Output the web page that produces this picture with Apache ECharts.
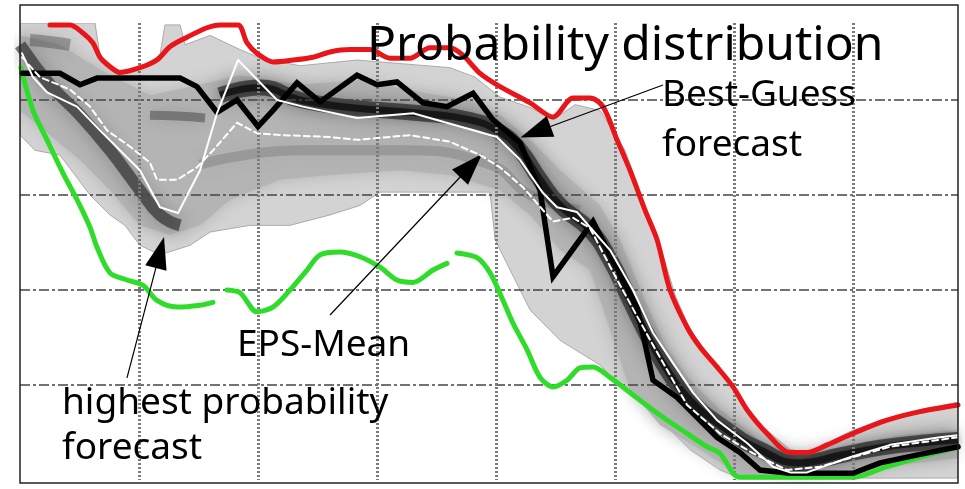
<!DOCTYPE html>
<html>
<head>
<meta charset="utf-8">
<script src="https://cdn.jsdelivr.net/npm/echarts@6/dist/echarts.min.js"></script>
<style>html,body{margin:0;padding:0;background:#fff}#chart{width:965px;height:489px}</style>
</head>
<body>
<div id="chart"></div>
<script>
// x: forecast time (grid line every 10 units), y: forecast value (grid line every 10 units)

// Envelope of the probability distribution (light grey)
const envUpperX = [0,6.3,6.72,8.4,10.08,11.76,12.18,13.45,13.87,15.97,18.49,20.17,23.53,28.32,36.13,38.24,40.34,42.86,44.79,46.64,48.74,50.84,52.1,53.78,55.04,56.3,57.56,59.24,60.92,62.18,64.71,66.39,69.75,72.27,75.63,78.82];
const envUpperY = [48.1,48.1,44.7,42.9,43.4,44.7,47.9,47.9,45.8,46.8,45.3,44.4,43.6,44.2,43.4,42.4,40.3,39.2,37.9,39.5,38.9,34.7,30,24.7,19.5,15.8,13.7,11.1,7.9,5.8,3.2,2.9,5.1,6.3,7.4,8.2];
const envLowerX = [0,1.26,3.36,5.88,7.56,8.82,10.08,11.76,14.29,15.97,19.33,22.69,26.05,28.57,30.25,39.5,39.92,41.18,42.86,45.38,48.74,50.42,52.94,56.3,58.82,60.5,78.82];
const envLowerY = [36.3,34.7,34.2,30,27.9,26.8,24.7,23.7,24.7,26.1,26.8,26.8,27.9,28.9,30.3,30.3,25.3,22.1,17.9,14.7,12.1,10,7.4,3.2,1.05,0.2,0.2];

// Core of the distribution (medium grey)
const coreUpperX = [0,3.36,6.72,10.92,15.13,18.49,23.53,28.57,33.61,37.82,40.34,42.86,45.38,48.74,50.42,52.52,54.2,56.3,58.82,62.18,65.55,69.75,73.95,78.82];
const coreUpperY = [46.8,45.8,43.2,40.5,41.6,42.6,41.6,42.1,40.8,40,38.4,35.8,32.6,28.9,25.3,18.9,14.2,10.5,7.4,4.2,2.3,3.7,4.7,5.3];
const coreLowerX = [0,2.52,5.04,7.56,10.08,12.61,15.13,17.65,21.85,26.05,31.93,36.13,40.34,42.86,45.38,47.9,49.58,51.26,53.78,57.14,60.5,65.55,69.75,73.95,78.82];
const coreLowerY = [38.9,36.3,33.7,30.5,26.8,25.8,26.8,29.5,31.6,32.1,32.6,32.1,30.5,27.9,24.2,22.1,15.8,9.5,5.8,3.2,0.5,0.2,0.8,1.6,2.3];

// High-density streaks (dark)
const mainStreakX = [16.81,20.17,23.53,27.73,33.61,37.82,40.34,42.02,43.7,45.38,47.9,49.58,51.26,52.94,54.62,56.3,58.82,62.18,65.55,68.91,72.27,75.63,78.82];
const mainStreakY = [40.5,41.3,40,39.2,38.6,37.9,36.6,34.7,31.6,28.9,26.3,23.2,18.9,14.7,11.1,8.4,5.8,3.2,1.8,2.6,3.4,3.9,4.2];
const leftStreakX = [0,2.52,5.04,7.56,10.08,11.76,13.45];
const leftStreakY = [45.8,41.6,38.4,34.7,30.5,27.9,26.8];
const topBlobX = [0.84,2.5,4.2];
const topBlobY = [46.3,46.1,45.8];
const midBlobX = [10.92,13.2,15.55];
const midBlobY = [38.4,38.3,38.1];
const lowStreakX = [15.13,23.53,31.93,39.5,42.86,47.06];
const lowStreakY = [33.2,34.7,34.7,33.2,30,28.4];

// Maximum of the ensemble (red)
const maxX = [2.52,4.2,5.29,6.13,6.72,7.56,8.4,10.08,11.51,12.6,14.03,15.71,16.81,18.32,19.08,19.92,21.26,22.94,24.62,26.05,27.73,29.41,31.09,32.77,34.45,36.13,37.23,38.66,40.34,42.86,44.79,46.47,47.9,48.99,50.17,51.26,52.52,53.53,54.62,56.05,57.14,58.57,59.92,61.09,62.77,64.71,66.13,67.82,70.0,72.86,75.63,78.82];
const maxY = [47.9,47.9,47.05,46.0,44.5,43.5,42.9,43.4,44.2,45.6,46.6,47.6,47.9,47.9,46.0,44.9,44.0,44.2,44.5,45.05,45.3,45.3,44.4,44.4,45.5,45.5,44.7,42.8,41.4,39.7,38.2,40.2,40.2,39.3,35.8,32.6,28.4,25.3,20.0,16.1,14.0,11.9,9.8,7.4,4.9,2.9,2.9,3.7,4.9,6.3,7.2,7.9];

// Minimum of the ensemble (green); null = gap
const minX = [0.08,1.09,2.27,3.61,4.79,5.88,6.47,7.56,8.99,10.34,11.51,13.19,15.13,16.22,16.8,17.39,18.49,19.92,21.26,22.69,24.12,25.21,26.89,28.57,30.25,31.68,33.03,34.71,35.88,36.3,36.72,38.4,39.5,40.59,41.43,42.61,43.7,44.79,45.97,47.06,48.15,49.58,51.26,52.1,54.03,56.05,57.73,58.82,59.92,60.5,70.0,72.86,75.63,78.82];
const minY = [43.4,38.9,35.8,32.3,29.5,26.6,24.5,21.8,21.05,20.5,18.9,18.2,18.4,18.7,null,20.0,19.7,17.7,18.2,20.0,22.1,23.7,24.0,23.5,22.4,21.05,20.8,22.1,22.8,null,23.9,23.4,21.8,18.9,16.5,13.7,10.8,9.8,10.5,11.8,11.9,10.8,9.2,8.4,6.6,4.9,3.5,2.8,0.7,0.3,0.3,1.4,2.4,3.5];

// Best-Guess forecast (black)
const bestX = [0.17,3.36,5.04,6.47,13.45,14.87,16.55,18.24,20.0,21.26,23.28,25.21,28.32,30.0,31.68,33.87,35.88,38.07,39.75,42.02,43.7,44.79,48.15,51.85,53.19,55.21,56.89,58.57,60.5,62.18,64.71,70.0,72.27,75.63,78.82];
const bestY = [42.8,42.8,41.6,42.3,42.3,41.4,38.7,40.0,37.2,38.9,41.8,39.8,42.6,41.6,41.9,39.7,39.3,40.7,37.9,35.5,30.5,21.4,27.2,18.2,10.5,8.7,6.6,4.5,2.9,1.05,0.7,0.7,1.8,2.7,3.5];

// Highest probability forecast (white solid)
const modeX = [0.17,1.09,2.27,4.79,6.72,10.08,11.76,13.28,15.13,16.55,18.32,21.6,23.78,28.32,33.03,40.08,42.02,43.95,45.13,46.81,47.9,49.58,51.51,53.19,54.87,56.55,58.57,61.09,63.28,64.71,66.13,69.75,73.11,77.31,78.82];
const modeY = [44.9,42.4,40.8,39.3,36.8,32.6,28.7,28.1,32.6,38.6,44.2,40.0,39.3,38.1,38.6,36.1,33.7,30.2,28.7,28.2,26.6,24.2,20.0,15.5,12.3,9.2,6.3,3.9,1.4,0.8,0.8,2.4,3.7,4.5,4.7];

// EPS-Mean (white dashed)
const meanX = [0.17,1.68,4.2,5.88,7.31,9.24,10.92,11.51,13.19,14.87,16.22,18.24,19.92,22.1,26.05,28.32,32.77,36.13,38.66,40.34,42.27,44.79,46.47,47.9,50.42,53.19,56.05,58.82,61.6,64.45,67.23,70.0,73.11,78.82];
const meanY = [44.5,42.4,41.1,39.3,36.8,35.1,33.4,31.6,31.6,32.9,34.7,37.6,36.5,36.3,36.1,35.8,36.3,35.6,34.2,32.9,30.8,27.2,27.6,26.5,20.5,14.2,7.9,4.9,2.8,1.05,1.4,2.4,3.5,4.5];

// Annotation arrows: [start, head centre] in data units
const arrowBestGuess = [[54.03,41.58],[43.32,36.63]];
const arrowMean = [[26.05,17.37],[37.9,33.1]];
const arrowMode = [[8.99,10.74],[11.76,23.95]];

const pairs = (xs, ys) => xs.map((x, i) => [x, ys[i]]);

function polygonSeries(ux, uy, lx, ly, fill, stroke, blur) {
  return {
    type: 'custom', z: 1, silent: true, animation: false, clip: true,
    data: [[0, 0]],
    renderItem: function (params, api) {
      const pts = [];
      for (let i = 0; i < ux.length; i++) pts.push(api.coord([ux[i], uy[i]]));
      for (let i = lx.length - 1; i >= 0; i--) pts.push(api.coord([lx[i], ly[i]]));
      return {
        type: 'polygon',
        shape: { points: pts },
        style: { fill: fill, stroke: stroke, lineWidth: 1, shadowBlur: blur, shadowColor: fill }
      };
    }
  };
}

function streak(xs, ys, color, width, blur) {
  return {
    type: 'line', z: 1, silent: true, animation: false, symbol: 'none', smooth: 0.5,
    data: pairs(xs, ys),
    lineStyle: { color: color, width: width, cap: 'butt', shadowBlur: blur, shadowColor: color }
  };
}

function curve(xs, ys, color, width, z, extra) {
  return {
    type: 'line', z: z, silent: true, animation: false, symbol: 'none', showSymbol: false,
    connectNulls: false,
    data: pairs(xs, ys),
    lineStyle: Object.assign({ color: color, width: width, join: 'round', cap: 'round' }, extra || {})
  };
}

const chart = echarts.init(document.getElementById('chart'), null, { renderer: 'canvas' });

const redSeries = curve(maxX, maxY, '#e8161b', 5, 3);
redSeries.smooth = 0.3;
const greenSeries = curve(minX, minY, '#2fdc2a', 5, 3);
greenSeries.smooth = 0.3;
const blackSeries = curve(bestX, bestY, '#000', 5.5, 4, { join: 'miter' });
const meanSeries = curve(meanX, meanY, '#ffffff', 2, 5, { type: [6, 4] });
const modeSeries = curve(modeX, modeY, '#ffffff', 2, 5);
modeSeries.markLine = {
  silent: true, animation: false,
  symbol: ['none', 'triangle'], symbolSize: [22, 32],
  label: { show: false },
  lineStyle: { color: '#000', width: 1.2, type: 'solid' },
  emphasis: { disabled: true },
  data: [arrowBestGuess, arrowMean, arrowMode].map(a => [{ coord: a[0] }, { coord: a[1] }])
};

const labelFont = '37px "Noto Sans", "Open Sans", sans-serif';

chart.setOption({
  backgroundColor: '#ffffff',
  animation: false,
  grid: { left: 20, right: 7, top: 23, height: 457, show: false },
  xAxis: {
    type: 'value', min: 0, max: 78.82, interval: 10, z: 2,
    axisLine: { show: false }, axisTick: { show: false }, axisLabel: { show: false },
    splitLine: { show: true, showMinLine: false, showMaxLine: false,
      lineStyle: { color: '#7a7a7a', width: 3, type: [2, 2] } }
  },
  yAxis: {
    type: 'value', min: 0, max: 48.1, interval: 10, z: 2,
    axisLine: { show: false }, axisTick: { show: false }, axisLabel: { show: false },
    splitLine: { show: true, showMinLine: false, showMaxLine: false,
      lineStyle: { color: '#444', width: 1.5, type: [10, 3, 3, 3] } }
  },
  series: [
    polygonSeries(envUpperX, envUpperY, envLowerX, envLowerY, '#d3d3d3', '#ababab', 0),
    polygonSeries(coreUpperX, coreUpperY, coreLowerX, coreLowerY, '#b4b4b4', 'rgba(0,0,0,0)', 16),
    streak(lowStreakX, lowStreakY, 'rgba(100,100,100,0.3)', 10, 18),
    streak(topBlobX, topBlobY, 'rgba(50,50,50,0.35)', 12, 20),
    streak(midBlobX, midBlobY, 'rgba(40,40,40,0.4)', 9, 16),
    streak(leftStreakX, leftStreakY, 'rgba(20,20,20,0.55)', 12, 18),
    streak(mainStreakX, mainStreakY, 'rgba(10,10,10,0.55)', 16, 20),
    streak(mainStreakX, mainStreakY, 'rgba(0,0,0,0.6)', 7, 10),
    redSeries,
    greenSeries,
    blackSeries,
    meanSeries,
    modeSeries
  ],
  graphic: [
    { type: 'rect', z: 10, silent: true, shape: { x: 20, y: 5, width: 938, height: 478 },
      style: { fill: 'none', stroke: '#222', lineWidth: 1.5 } },
    { type: 'text', z: 10, x: 367, y: 46, style: { text: 'Probability distribution', font: '48px "Noto Sans", "Open Sans", sans-serif', fill: '#000', verticalAlign: 'middle' } },
    { type: 'text', z: 10, x: 662, y: 95, style: { text: 'Best-Guess', font: labelFont, fill: '#000', verticalAlign: 'middle' } },
    { type: 'text', z: 10, x: 662, y: 145, style: { text: 'forecast', font: labelFont, fill: '#000', verticalAlign: 'middle' } },
    { type: 'text', z: 10, x: 237, y: 345, style: { text: 'EPS-Mean', font: labelFont, fill: '#000', verticalAlign: 'middle' } },
    { type: 'text', z: 10, x: 62, y: 403, style: { text: 'highest probability', font: labelFont, fill: '#000', verticalAlign: 'middle' } },
    { type: 'text', z: 10, x: 62, y: 448, style: { text: 'forecast', font: labelFont, fill: '#000', verticalAlign: 'middle' } }
  ]
});
</script>
</body>
</html>
